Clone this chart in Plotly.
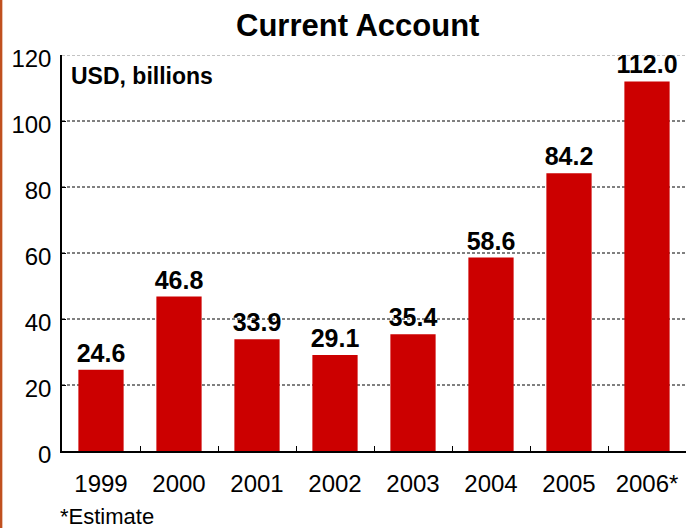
import plotly.graph_objects as go

# Current account balance, USD billions
years = ["1999", "2000", "2001", "2002", "2003", "2004", "2005", "2006*"]
values = [24.6, 46.8, 33.9, 29.1, 35.4, 58.6, 84.2, 112.0]
y_ticks = [0, 20, 40, 60, 80, 100, 120]

BAR_RED = "#CC0000"
FONT = "Liberation Sans, Arial, sans-serif"

fig = go.Figure(
    go.Bar(
        x=years,
        y=values,
        marker=dict(color=BAR_RED, line=dict(width=0)),
        width=0.58,
        text=[f"{v:.1f}" for v in values],
        textposition="outside",
        constraintext="none",
        textfont=dict(family=FONT, size=25, color="black", weight="bold"),
        cliponaxis=False,
    )
)

# dotted gridlines across the plot area
grid_shapes = [
    dict(type="line", xref="paper", yref="y", x0=0, x1=1, y0=t, y1=t,
         line=dict(color="#888888" if t == y_ticks[-1] else "black", width=1, dash="3px,2px"),
         layer="below")
    for t in y_ticks[1:]
]
# brown page rule at the far left
grid_shapes.append(dict(type="line", xref="paper", yref="paper", x0=-0.098, x1=-0.098,
                        y0=-0.2, y1=1.2, line=dict(color="#C0501F", width=3)))

fig.update_layout(
    width=686,
    height=528,
    margin=dict(l=62, r=0, t=55, b=77),
    paper_bgcolor="white",
    plot_bgcolor="white",
    showlegend=False,
    bargap=0.42,
    font=dict(family=FONT, color="black"),
    shapes=grid_shapes,
    xaxis=dict(
        showline=True, linecolor="black", linewidth=1.5,
        ticks="inside", tickson="boundaries", ticklen=5, tickcolor="black",
        tickfont=dict(size=24), showgrid=False, ticklabelstandoff=10,
    ),
    yaxis=dict(
        range=[0, 120], tickvals=y_ticks, showgrid=False, zeroline=False,
        showline=True, linecolor="black", linewidth=1.5,
        ticks="inside", ticklen=4, tickcolor="black",
        tickfont=dict(size=24), ticklabelstandoff=4, ticklabelshift=4,
    ),
    annotations=[
        dict(text="<b>Current Account</b>", xref="paper", yref="paper",
             x=0.474, y=1, yshift=30, xanchor="center", yanchor="middle",
             showarrow=False, font=dict(size=31)),
        dict(text="<b>USD, billions</b>", xref="paper", yref="paper",
             x=0.012, y=1, yshift=-21, xanchor="left", yanchor="middle",
             showarrow=False, font=dict(size=23)),
        dict(text="*Estimate", xref="paper", yref="paper",
             x=0, y=0, xshift=-4, yshift=-65, xanchor="left", yanchor="middle",
             showarrow=False, font=dict(size=22)),
    ],
)

fig.write_html("out.html")
